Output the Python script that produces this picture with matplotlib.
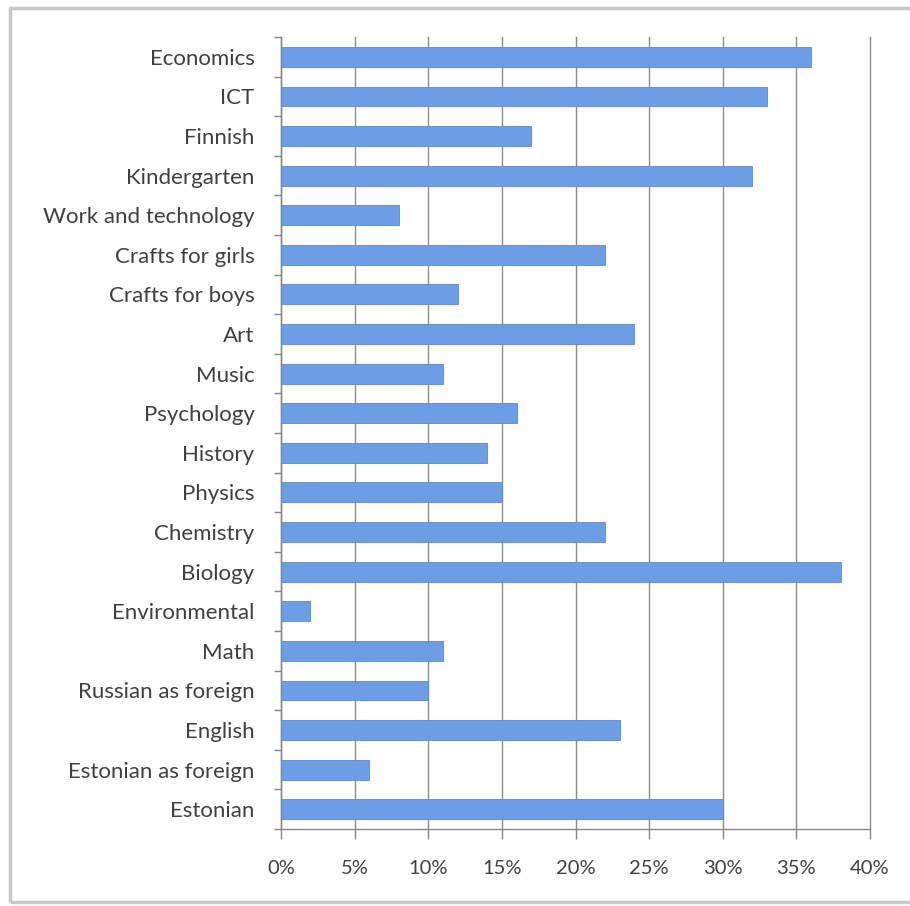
import numpy as np
import matplotlib.pyplot as plt
from matplotlib.patches import Rectangle
from matplotlib.ticker import FixedLocator

# categories from bottom to top
subjects = ['Estonian', 'Estonian as foreign', 'English', 'Russian as foreign', 'Math',
            'Environmental', 'Biology', 'Chemistry', 'Physics', 'History', 'Psychology',
            'Music', 'Art', 'Crafts for boys', 'Crafts for girls', 'Work and technology',
            'Kindergarten', 'Finnish', 'ICT', 'Economics']
share = [30, 6, 23, 10, 11, 2, 38, 22, 15, 14, 16, 11, 24, 12, 22, 8, 32, 17, 33, 36]
xticks = [0, 5, 10, 15, 20, 25, 30, 35, 40]

plt.rcParams['font.family'] = ['Lato', 'DejaVu Sans']

fig = plt.figure(figsize=(9.1, 9.06), dpi=100)
ax = fig.add_axes([281/910, 1 - 829/906, (870 - 281)/910, (829 - 37)/906])

y = np.arange(len(subjects))
ax.barh(y, share, height=0.5, color='#6d9de3', edgecolor='#5b8bd4', linewidth=0.6, zorder=3)

ax.set_xlim(0, 40)
ax.set_ylim(-0.5, len(subjects) - 0.5)
ax.set_xticks(xticks)
ax.set_xticklabels([f'{v}%' for v in xticks], fontsize=14.5, color='#404040')
ax.set_yticks(y)
ax.set_yticklabels(subjects, fontsize=16, color='#404040')
ax.yaxis.set_minor_locator(FixedLocator(np.arange(-0.5, len(subjects), 1)))

ax.tick_params(axis='y', which='major', length=0, pad=19)
ax.tick_params(axis='y', which='minor', length=5, color='#888888', width=1)
ax.tick_params(axis='x', which='major', length=7, color='#888888', width=1, pad=15)

ax.grid(axis='x', color='#8c8c8c', linewidth=1, zorder=0)
for gl in ax.get_xgridlines():
    gl.set_clip_on(False)
for s in ['top', 'right']:
    ax.spines[s].set_visible(False)
for s in ['left', 'bottom']:
    ax.spines[s].set_color('#888888')
    ax.spines[s].set_linewidth(1)

# outer frame
fig.patches.append(Rectangle((10/910, 0.004), 0.995, 1 - 8/906 - 0.004, transform=fig.transFigure,
                             fill=False, edgecolor='#c8c8c8', linewidth=2.5))

fig.savefig('out.png', dpi=100)
